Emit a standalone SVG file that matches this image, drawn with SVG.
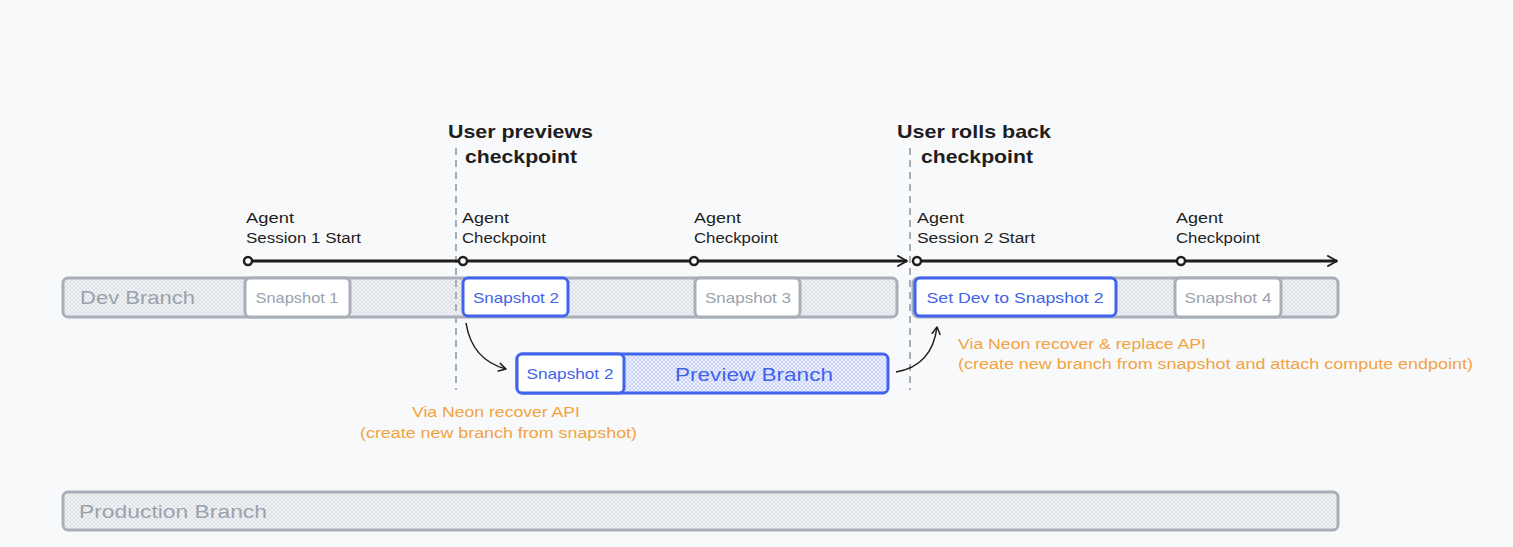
<svg xmlns="http://www.w3.org/2000/svg" width="1513" height="547" viewBox="0 0 1513 547">
<defs>
<pattern id="hatchGray" width="4" height="4" patternUnits="userSpaceOnUse">
<rect width="4" height="4" fill="#f1f2f4"/>
<path d="M0 4 L4 0 M0 0 L4 4" stroke="#d6dae0" stroke-width="0.7"/>
</pattern>
<pattern id="hatchBlue" width="4" height="4" patternUnits="userSpaceOnUse">
<rect width="4" height="4" fill="#eef1fd"/>
<path d="M0 4 L4 0 M0 0 L4 4" stroke="#b9c4f5" stroke-width="0.7"/>
</pattern>
<marker id="arrow" viewBox="0 0 12 12" refX="10" refY="6" markerWidth="12" markerHeight="12" markerUnits="userSpaceOnUse" orient="auto">
<path d="M1 1 L10 6 L1 11" fill="none" stroke="#1e1e1e" stroke-width="2" stroke-linecap="round" stroke-linejoin="round"/>
</marker>
<marker id="arrowSmall" viewBox="0 0 10 10" refX="8" refY="5" markerWidth="10" markerHeight="10" markerUnits="userSpaceOnUse" orient="auto">
<path d="M1 1 L8 5 L1 9" fill="none" stroke="#1e1e1e" stroke-width="1.5" stroke-linecap="round" stroke-linejoin="round"/>
</marker>
</defs>
<style>
text { font-family: "Liberation Sans", Arial, sans-serif; }
.head { font-size: 19px; fill: #1e1e1e; font-weight: bold; }
.agent { font-size: 14px; fill: #1e1e1e; }
.branchG { fill: url(#hatchGray); stroke: #a8afb9; stroke-width: 3; }
.branchB { fill: url(#hatchBlue); stroke: #4263eb; stroke-width: 3; }
.snapG { fill: #ffffff; stroke: #a8afb9; stroke-width: 3; }
.snapB { fill: #ffffff; stroke: #4263eb; stroke-width: 3; }
.lblG { font-size: 15px; fill: #9aa2ae; text-anchor: middle; }
.lblB { font-size: 15px; fill: #4263eb; text-anchor: middle; }
.bigG { font-size: 19px; fill: #9aa2ae; }
.bigB { font-size: 19px; fill: #4263eb; }
.note { font-size: 14px; fill: #f2a341; }
.dash { stroke: #a8afb9; stroke-width: 2; stroke-dasharray: 7 5; fill: none; }
.tl { stroke: #1e1e1e; stroke-width: 3; fill: none; }
.dot { fill: #ffffff; stroke: #1e1e1e; stroke-width: 2.5; }
.curve { stroke: #1e1e1e; stroke-width: 1.5; fill: none; }
</style>
<rect width="1513" height="547" fill="#f8f9fb"/>

<g id="dev-branch">
<rect class="branchG" x="63" y="278" width="834" height="39" rx="5"/>
<text class="bigG" x="80" y="304" textLength="115" lengthAdjust="spacingAndGlyphs">Dev Branch</text>
</g>
<g id="dev-branch-2">
<rect class="branchG" x="913" y="278" width="425" height="39" rx="5"/>
</g>
<g id="production-branch">
<rect class="branchG" x="63" y="492" width="1275" height="38" rx="5"/>
<text class="bigG" x="79" y="518" textLength="188" lengthAdjust="spacingAndGlyphs">Production Branch</text>
</g>

<g id="snapshot-1">
<rect class="snapG" x="245" y="278" width="105" height="39" rx="5"/>
<text class="lblG" x="297" y="303" textLength="83" lengthAdjust="spacingAndGlyphs">Snapshot 1</text>
</g>
<g id="snapshot-2">
<rect class="snapB" x="463" y="278" width="105" height="38" rx="5"/>
<text class="lblB" x="516" y="303" textLength="86" lengthAdjust="spacingAndGlyphs">Snapshot 2</text>
</g>
<g id="snapshot-3">
<rect class="snapG" x="695" y="278" width="105" height="39" rx="5"/>
<text class="lblG" x="748" y="303" textLength="86" lengthAdjust="spacingAndGlyphs">Snapshot 3</text>
</g>
<g id="set-dev">
<rect class="snapB" x="915" y="278" width="201" height="38" rx="5"/>
<text class="lblB" x="1015" y="303" textLength="177" lengthAdjust="spacingAndGlyphs">Set Dev to Snapshot 2</text>
</g>
<g id="snapshot-4">
<rect class="snapG" x="1175" y="278" width="106" height="39" rx="5"/>
<text class="lblG" x="1228" y="303" textLength="87" lengthAdjust="spacingAndGlyphs">Snapshot 4</text>
</g>

<g id="preview-branch">
<rect class="branchB" x="517" y="354" width="371" height="39" rx="5"/>
<rect class="snapB" x="517" y="354" width="107" height="39" rx="5"/>
<text class="lblB" x="570" y="379" textLength="87" lengthAdjust="spacingAndGlyphs">Snapshot 2</text>
<text class="bigB" x="754" y="381" text-anchor="middle" textLength="158" lengthAdjust="spacingAndGlyphs">Preview Branch</text>
</g>

<g id="event-preview">
<text class="head" x="448" y="138" textLength="145" lengthAdjust="spacingAndGlyphs">User previews</text>
<text class="head" x="465" y="163" textLength="112" lengthAdjust="spacingAndGlyphs">checkpoint</text>
</g>
<g id="event-rollback">
<text class="head" x="897" y="138" textLength="154" lengthAdjust="spacingAndGlyphs">User rolls back</text>
<text class="head" x="921" y="163" textLength="112" lengthAdjust="spacingAndGlyphs">checkpoint</text>
</g>

<g id="agent-labels">
<text class="agent" x="246" y="223" textLength="48" lengthAdjust="spacingAndGlyphs">Agent</text>
<text class="agent" x="246" y="243" textLength="115" lengthAdjust="spacingAndGlyphs">Session 1 Start</text>
<text class="agent" x="462" y="223" textLength="47" lengthAdjust="spacingAndGlyphs">Agent</text>
<text class="agent" x="462" y="243" textLength="84" lengthAdjust="spacingAndGlyphs">Checkpoint</text>
<text class="agent" x="694" y="223" textLength="47" lengthAdjust="spacingAndGlyphs">Agent</text>
<text class="agent" x="694" y="243" textLength="84" lengthAdjust="spacingAndGlyphs">Checkpoint</text>
<text class="agent" x="917" y="223" textLength="47" lengthAdjust="spacingAndGlyphs">Agent</text>
<text class="agent" x="917" y="243" textLength="118" lengthAdjust="spacingAndGlyphs">Session 2 Start</text>
<text class="agent" x="1176" y="223" textLength="47" lengthAdjust="spacingAndGlyphs">Agent</text>
<text class="agent" x="1176" y="243" textLength="84" lengthAdjust="spacingAndGlyphs">Checkpoint</text>
</g>

<g id="notes">
<text class="note" x="412" y="417" textLength="168" lengthAdjust="spacingAndGlyphs">Via Neon recover API</text>
<text class="note" x="360" y="438" textLength="277" lengthAdjust="spacingAndGlyphs">(create new branch from snapshot)</text>
<text class="note" x="958" y="349" textLength="248" lengthAdjust="spacingAndGlyphs">Via Neon recover &amp; replace API</text>
<text class="note" x="958" y="369" textLength="515" lengthAdjust="spacingAndGlyphs">(create new branch from snapshot and attach compute endpoint)</text>
</g>

<g id="connectors">
<line class="dash" x1="456" y1="148" x2="456" y2="390"/>
<line class="dash" x1="910" y1="148" x2="910" y2="390"/>
<line class="tl" x1="248" y1="261" x2="907" y2="261" marker-end="url(#arrow)"/>
<line class="tl" x1="917" y1="261" x2="1337" y2="261" marker-end="url(#arrow)"/>
<circle class="dot" cx="248" cy="261" r="4"/>
<circle class="dot" cx="463" cy="261" r="4"/>
<circle class="dot" cx="694" cy="261" r="4"/>
<circle class="dot" cx="917" cy="261" r="4"/>
<circle class="dot" cx="1181" cy="261" r="4"/>
<path class="curve" d="M466 323 Q472 360 506 369" marker-end="url(#arrowSmall)"/>
<path class="curve" d="M896 372 Q932 366 937 327" marker-end="url(#arrowSmall)"/>
</g>
</svg>
